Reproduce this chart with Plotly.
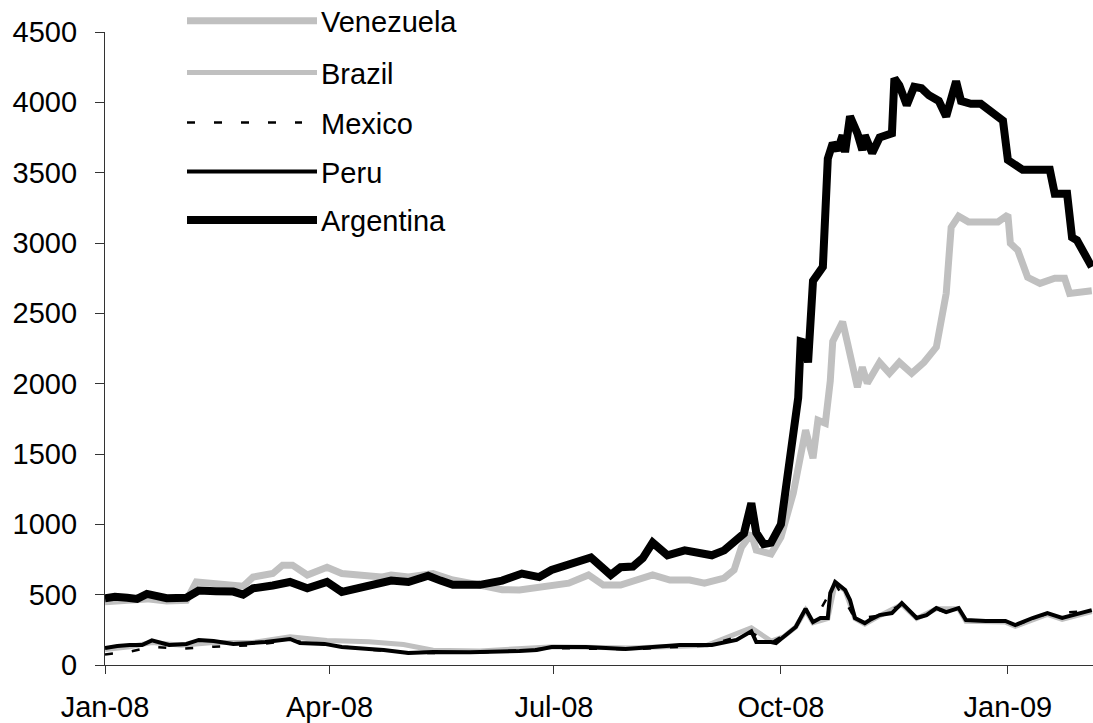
import plotly.graph_objects as go

# ---------------- data ----------------
arg_dates = ["2008-01-01","2008-01-05","2008-01-10","2008-01-14","2008-01-18","2008-01-22","2008-01-26",
             "2008-02-03","2008-02-08","2008-02-15","2008-02-22","2008-02-26","2008-03-01","2008-03-09",
             "2008-03-16","2008-03-23","2008-03-31","2008-04-06","2008-04-12","2008-04-17","2008-04-26",
             "2008-05-03","2008-05-11","2008-05-16","2008-05-21","2008-06-01","2008-06-10","2008-06-18",
             "2008-06-25","2008-06-30","2008-07-09","2008-07-16","2008-07-24","2008-07-28","2008-08-02",
             "2008-08-06","2008-08-10","2008-08-16","2008-08-23","2008-08-28","2008-09-03","2008-09-08",
             "2008-09-16","2008-09-19","2008-09-21","2008-09-24","2008-09-27","2008-10-01","2008-10-03",
             "2008-10-06","2008-10-08","2008-10-09","2008-10-11","2008-10-12","2008-10-14","2008-10-18",
             "2008-10-19","2008-10-20","2008-10-22","2008-10-24","2008-10-26","2008-10-27","2008-10-29",
             "2008-11-01","2008-11-03","2008-11-04","2008-11-07","2008-11-10","2008-11-15","2008-11-16",
             "2008-11-18","2008-11-21","2008-11-24","2008-11-27","2008-11-30","2008-12-04","2008-12-07",
             "2008-12-11","2008-12-13","2008-12-17","2008-12-21","2008-12-25","2008-12-30","2009-01-01",
             "2009-01-07","2009-01-18","2009-01-20","2009-01-25","2009-01-27","2009-01-29","2009-02-04"]
argentina = [475,485,478,470,505,495,475,
             478,530,525,522,500,545,565,
             590,545,590,520,545,565,600,
             590,635,600,570,570,600,650,
             625,675,720,765,640,695,700,
             760,870,780,815,800,780,815,
             935,1150,940,860,870,1000,1240,
             1600,1900,2300,2290,2150,2730,2830,
             3180,3600,3710,3660,3765,3645,3900,
             3780,3660,3765,3640,3750,3780,4170,
             4120,3980,4110,4100,4050,4010,3900,
             4150,4010,3990,3990,3930,3870,3590,
             3520,3520,3350,3350,3040,3020,2830]

ven_dates = ["2008-01-01","2008-01-10","2008-01-18","2008-01-26","2008-02-03","2008-02-07","2008-02-15",
             "2008-02-22","2008-02-26","2008-03-01","2008-03-09","2008-03-13","2008-03-17","2008-03-23",
             "2008-03-31","2008-04-06","2008-04-17","2008-04-22","2008-04-26","2008-05-03","2008-05-13",
             "2008-05-21","2008-05-28","2008-06-10","2008-06-17","2008-06-24","2008-07-07","2008-07-15",
             "2008-07-21","2008-07-28","2008-08-03","2008-08-10","2008-08-17","2008-08-25","2008-08-31",
             "2008-09-08","2008-09-12","2008-09-15","2008-09-19","2008-09-21","2008-09-27","2008-10-01",
             "2008-10-06","2008-10-10","2008-10-11","2008-10-14","2008-10-16","2008-10-19","2008-10-21",
             "2008-10-22","2008-10-26","2008-10-28","2008-11-01","2008-11-03","2008-11-05","2008-11-10",
             "2008-11-14","2008-11-18","2008-11-23","2008-11-28","2008-12-03","2008-12-07","2008-12-09",
             "2008-12-12","2008-12-16","2008-12-28","2009-01-01","2009-01-02","2009-01-05","2009-01-09",
             "2009-01-14","2009-01-20","2009-01-24","2009-01-26","2009-02-04"]
venezuela = [450,455,470,455,460,590,575,
             572,560,625,650,710,710,640,
             695,650,640,625,640,625,650,
             604,582,535,533,547,582,640,
             568,568,604,640,604,604,582,
             618,675,838,935,817,790,909,
             1222,1548,1670,1470,1740,1719,2020,
             2300,2440,2287,1975,2117,2003,2152,
             2074,2152,2074,2152,2260,2642,3111,
             3190,3150,3150,3200,2997,2948,2756,
             2713,2749,2749,2642,2660]

peru_dates = ["2008-01-01","2008-01-06","2008-01-11","2008-01-16","2008-01-20","2008-01-27","2008-02-03",
              "2008-02-08","2008-02-14","2008-02-22","2008-02-28","2008-03-06","2008-03-16","2008-03-20",
              "2008-03-30","2008-04-06","2008-04-17","2008-04-23","2008-05-03","2008-05-13","2008-05-28",
              "2008-06-10","2008-06-17","2008-06-24","2008-06-30","2008-07-14","2008-07-21","2008-07-30",
              "2008-08-10","2008-08-21","2008-09-03","2008-09-13","2008-09-19","2008-09-21","2008-09-27",
              "2008-09-29","2008-10-02","2008-10-07","2008-10-11","2008-10-14","2008-10-17","2008-10-20",
              "2008-10-21","2008-10-23","2008-10-27","2008-10-29","2008-10-31","2008-11-04","2008-11-06",
              "2008-11-10","2008-11-15","2008-11-19","2008-11-25","2008-11-29","2008-12-03","2008-12-07",
              "2008-12-12","2008-12-15","2008-12-23","2008-12-31","2009-01-04","2009-01-11","2009-01-17",
              "2009-01-23","2009-02-04"]
peru = [120,135,142,142,175,142,150,
        178,170,149,155,163,185,156,
        150,128,114,107,85,92,90,
        92,100,107,128,128,121,114,
        128,142,142,178,240,163,163,
        156,199,270,400,305,334,334,
        511,590,533,462,334,298,320,
        355,369,440,334,355,405,376,
        405,320,313,313,284,334,369,
        334,390]

bra_dates = ["2008-01-01","2008-01-11","2008-01-20","2008-02-01","2008-02-14","2008-03-01","2008-03-16",
             "2008-03-31","2008-04-17","2008-05-01","2008-05-13","2008-06-01","2008-07-01","2008-08-01",
             "2008-09-01","2008-09-19","2008-09-27","2008-10-02","2008-10-07","2008-10-11","2008-10-14",
             "2008-10-20","2008-10-23","2008-10-27","2008-10-31","2008-11-04","2008-11-10","2008-11-19",
             "2008-11-25","2008-12-03","2008-12-12","2008-12-15","2008-12-31","2009-01-04","2009-01-17",
             "2009-01-23","2009-02-04"]
brazil = [110,130,160,140,160,160,200,
          175,165,145,105,100,130,120,
          140,265,170,200,270,390,300,
          330,580,530,330,290,350,430,
          330,400,400,310,305,275,360,
          325,380]

mex_dates = ["2008-01-01","2008-01-11","2008-01-20","2008-02-01","2008-02-14","2008-03-01","2008-03-16",
             "2008-04-01","2008-04-17","2008-05-03","2008-06-01","2008-07-01","2008-08-01","2008-09-01",
             "2008-09-19","2008-09-27","2008-10-07","2008-10-11","2008-10-14","2008-10-23","2008-10-31",
             "2008-11-10","2008-11-19","2008-11-25","2008-12-03","2008-12-15","2008-12-31","2009-01-04",
             "2009-01-17","2009-02-04"]
mexico = [75,95,130,115,130,140,175,
          140,110,85,88,120,112,138,
          230,158,265,395,300,580,330,
          350,430,330,400,318,310,282,
          365,385]

x_tick_vals = ["2008-01-01", "2008-04-01", "2008-07-01", "2008-10-01", "2009-01-01"]
x_tick_text = ["Jan-08", "Apr-08", "Jul-08", "Oct-08", "Jan-09"]
y_tick_vals = [0, 500, 1000, 1500, 2000, 2500, 3000, 3500, 4000, 4500]

# ---------------- styles ----------------
GRAY = "#c0c0c0"
FONT = "Liberation Sans, Arial, sans-serif"
FS = 29
W, H = 1093, 723
L, R, T, B = 105, 0, 32, 58
PW, PH = W - L - R, H - T - B

series = [
    ("Venezuela", ven_dates, venezuela, dict(color=GRAY, width=7)),
    ("Brazil", bra_dates, brazil, dict(color=GRAY, width=5)),
    ("Mexico", mex_dates, mexico, dict(color="black", width=2.5, dash="8px,19px")),
    ("Peru", peru_dates, peru, dict(color="black", width=4)),
    ("Argentina", arg_dates, argentina, dict(color="black", width=8)),
]

fig = go.Figure()
for name, xs, ys, line in series:
    fig.add_trace(go.Scatter(x=xs, y=ys, mode="lines", name=name, line=line,
                             showlegend=False))

def px_x(px):
    return (px - L) / PW

def px_y(py):
    return (H - B - py) / PH

# manual legend (long line samples as in the reference)
legend_rows = [("Venezuela", 20.7), ("Brazil", 72.5), ("Mexico", 122.5), ("Peru", 171.5), ("Argentina", 220)]
shapes, annotations = [], []
for (name, _, _, line), (_, ly) in zip(series, legend_rows):
    x1 = 302 if name == "Mexico" else 317
    shapes.append(dict(type="line", xref="paper", yref="paper",
                       x0=px_x(187), x1=px_x(x1), y0=px_y(ly), y1=px_y(ly),
                       line=dict(color=line["color"], width=line["width"],
                                 dash=line.get("dash", "solid"))))
    annotations.append(dict(text=name, xref="paper", yref="paper", x=px_x(319), y=px_y(ly + 1),
                            xanchor="left", yanchor="middle", showarrow=False,
                            font=dict(family=FONT, size=FS, color="black")))

fig.update_layout(
    width=W, height=H,
    margin=dict(l=L, r=R, t=T, b=B, pad=0, autoexpand=False),
    paper_bgcolor="white", plot_bgcolor="white",
    font=dict(family=FONT, size=FS, color="black"),
    showlegend=False,
    shapes=shapes, annotations=annotations,
    xaxis=dict(type="date", range=["2008-01-01", "2009-02-04 12:00"],
               tickvals=x_tick_vals, ticktext=x_tick_text, automargin=False,
               showline=True, linecolor="#333333", linewidth=1.2,
               ticks="outside", ticklen=8, tickcolor="#333333", tickwidth=1.2,
               showgrid=False, zeroline=False, ticklabelstandoff=8),
    yaxis=dict(range=[0, 4500], tickvals=y_tick_vals, automargin=False,
               showline=True, linecolor="#333333", linewidth=1.2,
               ticks="outside", ticklen=9, tickcolor="#333333", tickwidth=1.2,
               showgrid=False, zeroline=False, ticklabelstandoff=12),
)

fig.write_html("out.html", config={"displayModeBar": False},
               post_script="document.body.style.margin='0';document.body.style.overflow='hidden';")
